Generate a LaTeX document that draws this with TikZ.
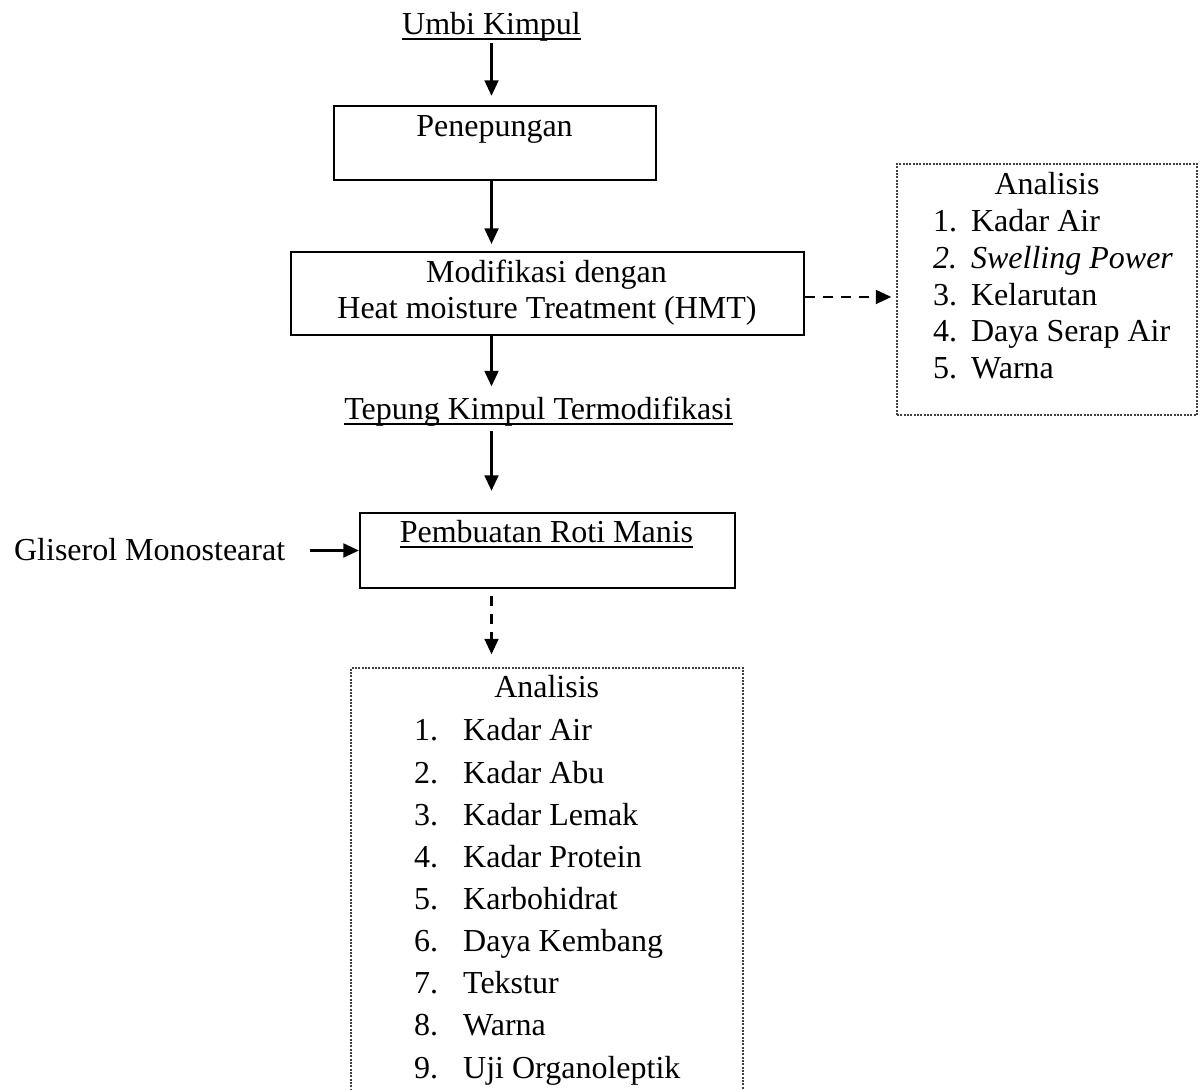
\documentclass[tikz,border=0pt]{standalone}
\usepackage{fontspec}
\setmainfont{Liberation Serif}
\usetikzlibrary{arrows.meta}

\newcommand{\garisbawah}[1]{\setbox0=\hbox{#1}\rlap{\rule[-2pt]{\wd0}{0.7pt}}\box0}

\begin{document}
\begin{tikzpicture}[x=0.375pt, y=-0.375pt, >={Triangle[length=5.8pt,width=5.2pt]}, line width=0.85pt]
        % Gaya
        \tikzstyle{kotak} = [draw, rectangle, line width=0.85pt, inner sep=0pt]
        \tikzstyle{kotaktitik} = [draw=black!75, rectangle, line width=0.5pt, dash pattern=on 0.75pt off 0.5pt, inner sep=0pt]
        \tikzstyle{teks} = [inner sep=0pt, anchor=base, font=\fontsize{12}{14.4}\selectfont]
        \tikzstyle{putus} = [dash pattern=on 3.75pt off 3pt]

        \clip (0,0) rectangle (1203,1090);

        % Kotak
        \node [kotak, minimum width=120.75pt, minimum height=27.75pt] (penep) at (495,143) {};
        \node [kotak, minimum width=192.375pt, minimum height=31.125pt] (modif) at (547.5,293.5) {};
        \node [kotak, minimum width=140.625pt, minimum height=28.125pt] (roti) at (547.5,550.5) {};
        \node [kotaktitik, minimum width=112.5pt, minimum height=94.125pt] (analA) at (1047,289.5) {};
        \node [kotaktitik, minimum width=147pt, minimum height=162pt] (analB) at (547,884) {};

        % Teks
        \node [teks] (umbi) at (491.5,35) {\garisbawah{Umbi Kimpul}};
        \node [teks] (penepT) at (494.5,137) {Penepungan};
        \node [teks] (modifT) at (546.5,283) {Modifikasi dengan};
        \node [teks] (hmt) at (547,319) {Heat moisture Treatment (HMT)};
        \node [teks] (tepung) at (538.5,420) {\garisbawah{Tepung Kimpul Termodifikasi}};
        \node [teks] (rotiT) at (546.5,543) {\garisbawah{Pembuatan Roti Manis}};
        \node [teks, anchor=base west] (gliserol) at (13,561) {Gliserol Monostearat};

        % Analisis
        \node [teks] (judulA) at (1047,195) {Analisis};
        \node [teks, anchor=base west, font=\fontsize{12}{13.73}\selectfont] (daftarA) at (932,232)
            {\begin{tabular}[t]{@{}l@{\hspace{5.25pt}}l@{}}
              1. & Kadar Air\\
              \textit{2.} & \textit{Swelling Power}\\
              3. & Kelarutan\\
              4. & Daya Serap Air\\
              5. & Warna
            \end{tabular}};
        \node [teks] (judulB) at (546.7,697) {Analisis};
        \node [teks, anchor=base west, font=\fontsize{12}{15.8}\selectfont] (daftarB) at (413,741)
            {\begin{tabular}[t]{@{}l@{\hspace{9.4pt}}l@{}}
              1. & Kadar Air\\
              2. & Kadar Abu\\
              3. & Kadar Lemak\\
              4. & Kadar Protein\\
              5. & Karbohidrat\\
              6. & Daya Kembang\\
              7. & Tekstur\\
              8. & Warna\\
              9. & Uji Organoleptik
            \end{tabular}};

        % Panah
        \draw [->, shorten >=3.4pt] (umbi.south) -- (umbi.south |- penep.north);
        \draw [->, shorten >=2.6pt] (penep.south -| umbi) -- (modif.north -| umbi);
        \draw [->, shorten >=3.75pt] (modif.south -| umbi) -- (tepung.north -| umbi);
        \draw [->, shorten <=1.1pt, shorten >=7.9pt] (tepung.south -| umbi) -- (roti.north -| umbi);
        \draw [->, putus, shorten <=2.6pt, shorten >=4.9pt] (roti.south -| umbi) -- (analB.north -| umbi);
        \draw [->, putus, shorten >=1.9pt] ([yshift=-1.3pt]modif.east) -- ([yshift=-1.3pt]modif.east -| analA.west);
        \draw [->] ([xshift=9pt]gliserol.east |- roti.west) -- (roti.west);

    \end{tikzpicture}
\end{document}
